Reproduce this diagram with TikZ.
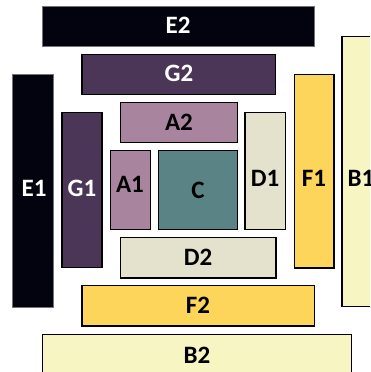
\documentclass[tikz,border=0pt]{standalone}
\usepackage{fontspec}
\setmainfont{Carlito}
\usepackage{tikz}
\definecolor{colE}{HTML}{03030F}
\definecolor{colG}{HTML}{4B3658}
\definecolor{colA}{HTML}{A8849F}
\definecolor{colC}{HTML}{5A8385}
\definecolor{colD}{HTML}{E4E2CC}
\definecolor{colF}{HTML}{FCD55A}
\definecolor{colB}{HTML}{F7F6C3}
\begin{document}
\begin{tikzpicture}[x=1pt,y=-1pt,
    box/.style={draw=black,line width=1.3pt},
    darkbox/.style={draw=black!55,line width=0.8pt},
    lab/.style={font=\fontsize{25}{27}\selectfont\bfseries,inner sep=0pt}]
    \useasboundingbox (0,0) rectangle (370,372);
    \clip (0,0) rectangle (370,372);
			\draw[darkbox,fill=colE] (42.5,6) rectangle (314,46.5);
			\draw[box,fill=colG] (82,54.5) rectangle (275.5,94.5);
			\draw[box,fill=colA] (120.5,102.5) rectangle (237.5,142.5);
			\draw[darkbox,fill=colE] (12.5,74.5) rectangle (53.5,307);
			\draw[box,fill=colG] (62,112.5) rectangle (102,267.5);
			\draw[box,fill=colA] (110.5,150.5) rectangle (150.5,229.5);
			\draw[box,fill=colC] (158.5,150.5) rectangle (237.5,229.5);
			\draw[box,fill=colD] (245,112.5) rectangle (285.5,229.5);
			\draw[box,fill=colF] (294.5,74.5) rectangle (334,268);
			\draw[box,fill=colB] (342,36.5) rectangle (385,306.5);
			\draw[box,fill=colD] (120.5,237.5) rectangle (276,278);
			\draw[box,fill=colF] (82,285.5) rectangle (314.5,326);
			\draw[box,fill=colB] (42.5,334.5) rectangle (351.5,385);
			\node[lab,white] (lE2) at (178,25) {E2};
			\node[lab,white] (lG2) at (179,73) {G2};
			\node[lab] (lA2) at (179,122) {A2};
			\node[lab,white] (lE1) at (34,188) {E1};
			\node[lab,white] (lG1) at (82,188) {G1};
			\node[lab] (lA1) at (130,184) {A1};
			\node[lab] (lC) at (198,190) {C};
			\node[lab] (lD1) at (265,178) {D1};
			\node[lab] (lF1) at (314,178) {F1};
			\node[lab] (lB1) at (361,178) {B1};
			\node[lab] (lD2) at (198,257) {D2};
			\node[lab] (lF2) at (198,305) {F2};
			\node[lab] (lB2) at (197,355) {B2};
		\end{tikzpicture}
\end{document}
